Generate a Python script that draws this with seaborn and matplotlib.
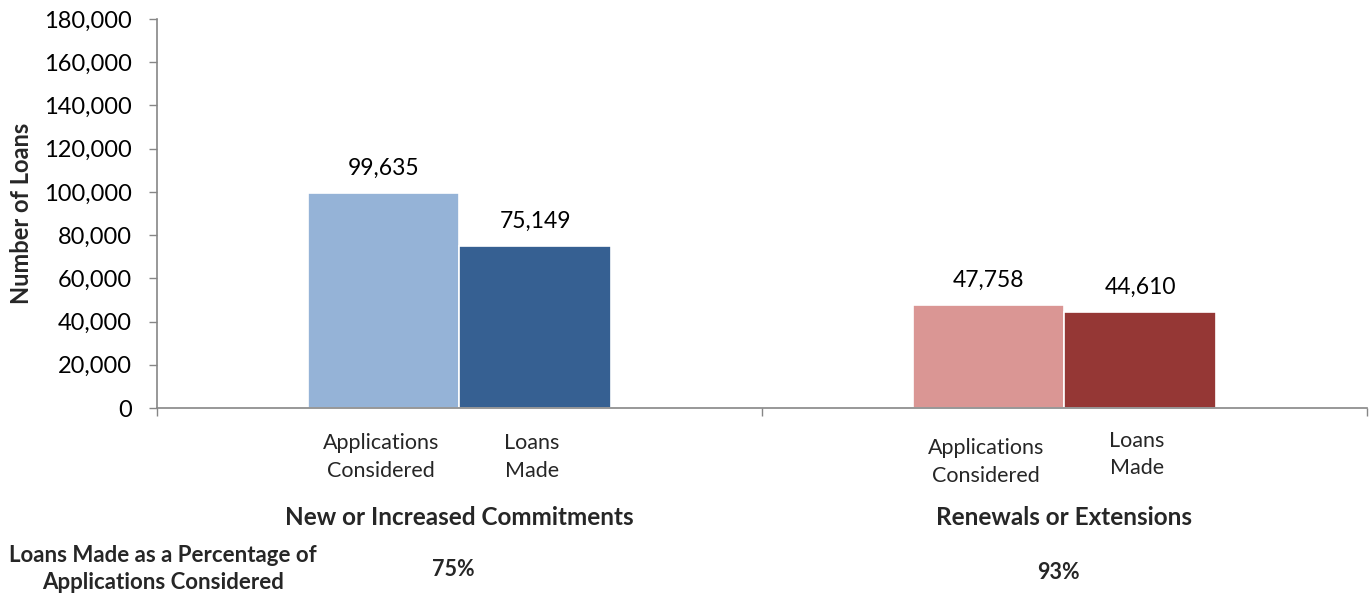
import matplotlib
matplotlib.use("Agg")
import matplotlib.pyplot as plt
import seaborn as sns
import pandas as pd
from matplotlib.ticker import FuncFormatter, FixedLocator

# Loan activity data
groups = ["New or Increased Commitments", "Renewals or Extensions"]
series = ["Applications Considered", "Loans Made"]
applications = [99635, 47758]
loans_made = [75149, 44610]
y_ticks = [0, 20000, 40000, 60000, 80000, 100000, 120000, 140000, 160000, 180000]

group_colors = [["#95B3D7", "#366092"], ["#DA9694", "#953735"]]

df = pd.DataFrame({
    "group": groups * 2,
    "series": [series[0]] * 2 + [series[1]] * 2,
    "count": applications + loans_made,
})

sns.set_theme(style="white")
plt.rcParams["font.family"] = ["Lato", "DejaVu Sans"]

fig = plt.figure(figsize=(13.71, 5.94), dpi=100)
ax = fig.add_axes([0.1145, 0.3131, 0.8825, 0.655])

sns.barplot(data=df, x="group", y="count", hue="series", order=groups,
            hue_order=series, width=0.5, ax=ax, legend=False,
            edgecolor="white", linewidth=1.2, saturation=1)

# colour each bar by its group / series
for s_idx, cont in enumerate(ax.containers):
    for g_idx, patch in enumerate(cont.patches):
        patch.set_facecolor(group_colors[g_idx][s_idx])

# value labels above bars
for cont in ax.containers:
    for patch in cont.patches:
        h = patch.get_height()
        ax.annotate(f"{h:,.0f}", (patch.get_x() + patch.get_width() / 2, h),
                    xytext=(0, 10), textcoords="offset points",
                    ha="center", va="bottom", fontsize=16.5, color="black")

ax.set_ylim(0, 180000)
ax.set_xlim(-0.5, 1.5)
ax.yaxis.set_major_locator(FixedLocator(y_ticks))
ax.yaxis.set_major_formatter(FuncFormatter(lambda v, p: f"{v:,.0f}"))
ax.tick_params(axis="y", labelsize=17, length=6, width=1, color="#868686",
               left=True, direction="out", pad=12, labelcolor="black")
ax.xaxis.set_major_locator(FixedLocator([-0.5, 0.5, 1.5]))
ax.set_xticklabels(["", "", ""])
ax.tick_params(axis="x", length=6, width=1, color="#868686", bottom=True,
               direction="out")
ax.set_xlabel("")
ax.set_ylabel("Number of Loans", fontsize=17, fontweight="bold", labelpad=8)

sns.despine(ax=ax, top=True, right=True)
for side in ("left", "bottom"):
    ax.spines[side].set_color("#868686")
    ax.spines[side].set_linewidth(1.2)

# sub-category labels under each bar
trans = ax.get_xaxis_transform()
sub_offsets = [[-0.065, -0.065], [-0.078, -0.058]]
for g_idx in range(len(groups)):
    ax.text(g_idx - 0.13, sub_offsets[g_idx][0], "Applications\nConsidered",
            transform=trans, ha="center", va="top", fontsize=15.5,
            linespacing=1.45)
    ax.text(g_idx + 0.12, sub_offsets[g_idx][1], "Loans\nMade",
            transform=trans, ha="center", va="top", fontsize=15.5,
            linespacing=1.45)
    ax.text(g_idx, -0.282, groups[g_idx], transform=trans, ha="center",
            va="center", fontsize=17.5, fontweight="bold")
    pct = loans_made[g_idx] / applications[g_idx] * 100
    ax.text(g_idx - 0.01, -0.416 - 0.008 * g_idx, f"{pct:.0f}%",
            transform=trans, ha="center", va="center", fontsize=15.5,
            fontweight="bold")

fig.text(163 / 1371, 1 - 569 / 594,
         "Loans Made as a Percentage of\nApplications Considered",
         ha="center", va="center", fontsize=16, fontweight="bold",
         linespacing=1.3)

fig.savefig("out.png", dpi=100)
